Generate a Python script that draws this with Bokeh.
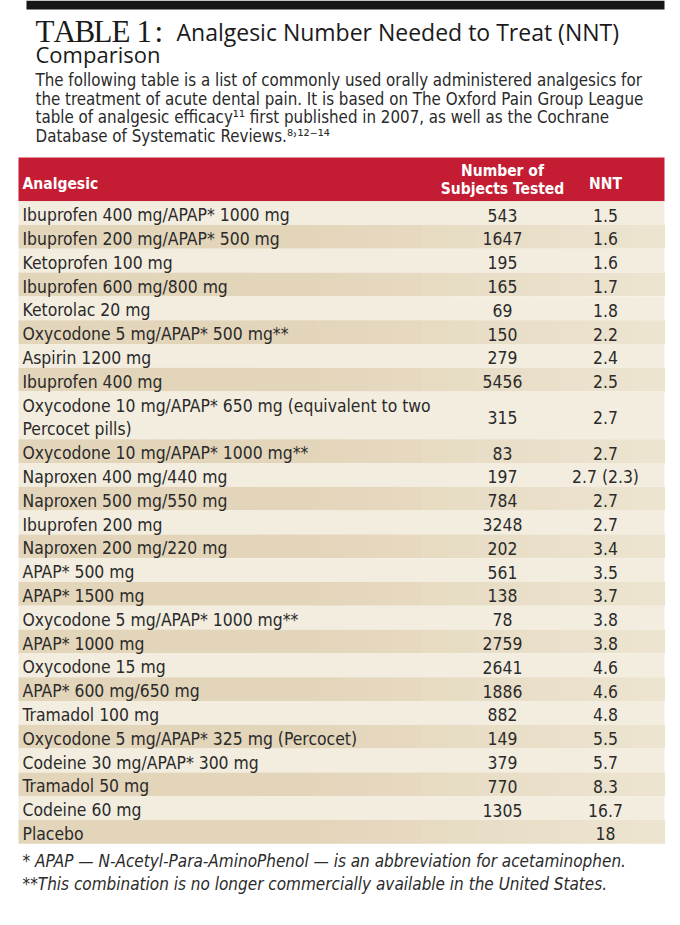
from bokeh.plotting import figure
from bokeh.models import Range1d
from bokeh.core.properties import value
from bokeh.embed import file_html
from bokeh.resources import INLINE

# ---------------- data ----------------
title_serif = "TABLE 1:"
title_main = "Analgesic Number Needed to Treat (NNT)"
title_line2 = "Comparison"
description = [
    "The following table is a list of commonly used orally administered analgesics for",
    "the treatment of acute dental pain. It is based on The Oxford Pain Group League",
    "table of analgesic efficacy\u00b9\u00b9 first published in 2007, as well as the Cochrane",
    "Database of Systematic Reviews.\u2078\u02d2\u00b9\u00b2\u207b\u00b9\u2074",
]
header_analgesic = "Analgesic"
header_subjects = ["Number of", "Subjects Tested"]
header_nnt = "NNT"

analgesics = [
    "Ibuprofen 400 mg/APAP* 1000 mg",
    "Ibuprofen 200 mg/APAP* 500 mg",
    "Ketoprofen 100 mg",
    "Ibuprofen 600 mg/800 mg",
    "Ketorolac 20 mg",
    "Oxycodone 5 mg/APAP* 500 mg**",
    "Aspirin 1200 mg",
    "Ibuprofen 400 mg",
    "Oxycodone 10 mg/APAP* 650 mg (equivalent to two\nPercocet pills)",
    "Oxycodone 10 mg/APAP* 1000 mg**",
    "Naproxen 400 mg/440 mg",
    "Naproxen 500 mg/550 mg",
    "Ibuprofen 200 mg",
    "Naproxen 200 mg/220 mg",
    "APAP* 500 mg",
    "APAP* 1500 mg",
    "Oxycodone 5 mg/APAP* 1000 mg**",
    "APAP* 1000 mg",
    "Oxycodone 15 mg",
    "APAP* 600 mg/650 mg",
    "Tramadol 100 mg",
    "Oxycodone 5 mg/APAP* 325 mg (Percocet)",
    "Codeine 30 mg/APAP* 300 mg",
    "Tramadol 50 mg",
    "Codeine 60 mg",
    "Placebo",
]
subjects = ["543", "1647", "195", "165", "69", "150", "279", "5456", "315", "83",
            "197", "784", "3248", "202", "561", "138", "78", "2759", "2641", "1886",
            "882", "149", "379", "770", "1305", ""]
nnt = ["1.5", "1.6", "1.6", "1.7", "1.8", "2.2", "2.4", "2.5", "2.7", "2.7",
       "2.7 (2.3)", "2.7", "2.7", "3.4", "3.5", "3.7", "3.8", "3.8", "4.6", "4.6",
       "4.8", "5.5", "5.7", "8.3", "16.7", "18"]
footnotes = [
    "* APAP \u2014 N-Acetyl-Para-AminoPhenol \u2014 is an abbreviation for acetaminophen.",
    "**This combination is no longer commercially available in the United States.",
]

# ---------------- layout ----------------
COND = "DejaVu Sans Condensed"
SANS = "Open Sans"
SERIF = "Liberation Serif"
INK = "#2a2a2a"

p = figure(width=680, height=925, x_range=Range1d(0, 680), y_range=Range1d(925, 0),
           output_backend="svg", toolbar_location=None, min_border=0)
p.axis.visible = False
p.grid.visible = False
p.outline_line_color = None
p.background_fill_color = "white"

TL, TR = 18, 664
# black bar at the top
p.quad(left=[26], right=[664], top=[0], bottom=[9], fill_color="#151515", line_color=None)

# title: letter-spaced serif "TABLE 1:"
serif_x = [35, 53, 74, 93, 111, 136, 154]
serif_chars = [c for c in title_serif if c != " "]
p.text(x=serif_x, y=[31] * len(serif_chars), text=serif_chars, text_font=value(SERIF),
       text_font_size="31px", text_baseline="alphabetic", text_color="#1a1a1a")
p.text(x=[176], y=[31], text=[title_main], text_font=value(SANS), text_font_size="23px",
       text_baseline="alphabetic", text_color="#1a1a1a")
p.text(x=[35], y=[53], text=[title_line2], text_font=value(SANS), text_font_size="22px",
       text_baseline="alphabetic", text_color="#1a1a1a")
p.text(x=[35] * len(description), y=[79.5 + 18.7 * i for i in range(len(description))],
       text=description, text_font=value(COND), text_font_size="16.8px",
       text_baseline="alphabetic", text_color=INK)

# header band
H_TOP, H_BOT = 157, 200.7
p.quad(left=[TL], right=[TR], top=[H_TOP], bottom=[H_BOT], fill_color="#c41d33", line_color=None)
hdr = dict(text_font=value(COND), text_font_size="15.5px", text_font_style="bold",
           text_color="white", text_baseline="alphabetic")
p.text(x=[22], y=[183], text=[header_analgesic], **hdr)
p.text(x=[502, 502], y=[170, 188], text=header_subjects, text_align="center", **hdr)
p.text(x=[605], y=[183], text=[header_nnt], text_align="center", **hdr)

# rows
ROW_H = 23.8
COL_SUB, COL_NNT = 502, 605
N_GRAD = 24
light = (243, 237, 223)
dark_l, dark_r = (227, 213, 186), (237, 228, 208)
BASE_OFF = 2.0   # baseline below row centre

y = H_BOT
ql, qr, qt, qb, qc = [], [], [], [], []
nx, ny, nt = [], [], []
vx, vy, vt = [], [], []
for i, (name, s, n) in enumerate(zip(analgesics, subjects, nnt)):
    lines = name.split("\n")
    h = ROW_H * len(lines)
    if i % 2 == 0:
        ql.append(TL); qr.append(TR); qt.append(y); qb.append(y + h)
        qc.append("#%02x%02x%02x" % light)
    else:
        w = (TR - TL) / N_GRAD
        for k in range(N_GRAD):
            f = k / (N_GRAD - 1)
            f = max(0.0, (f - 0.45) / 0.55)
            c = tuple(int(round(a + (b - a) * f)) for a, b in zip(dark_l, dark_r))
            ql.append(TL + k * w); qr.append(TL + (k + 1) * w + 0.6)
            qt.append(y); qb.append(y + h); qc.append("#%02x%02x%02x" % c)
    for j, ln in enumerate(lines):
        nx.append(22); ny.append(y + ROW_H * (j + 0.5) + BASE_OFF); nt.append(ln)
    cy = y + h / 2 + BASE_OFF
    vx += [COL_SUB, COL_NNT]; vy += [cy, cy]; vt += [s, n]
    y += h

p.quad(left=ql, right=qr, top=qt, bottom=qb, fill_color=qc, line_color=None)
p.text(x=nx, y=ny, text=nt, text_font=value(COND), text_font_size="17.4px",
       text_baseline="alphabetic", text_color=INK)
p.text(x=vx, y=vy, text=vt, text_font=value(COND), text_font_size="17.4px",
       text_baseline="alphabetic", text_align="center", text_color=INK)

# footnotes
p.text(x=[22, 22], y=[y + 17, y + 40], text=footnotes, text_font=value(COND),
       text_font_size="17px", text_font_style="italic", text_baseline="alphabetic",
       text_color=INK)

open("out.html", "w").write(file_html(p, INLINE))
